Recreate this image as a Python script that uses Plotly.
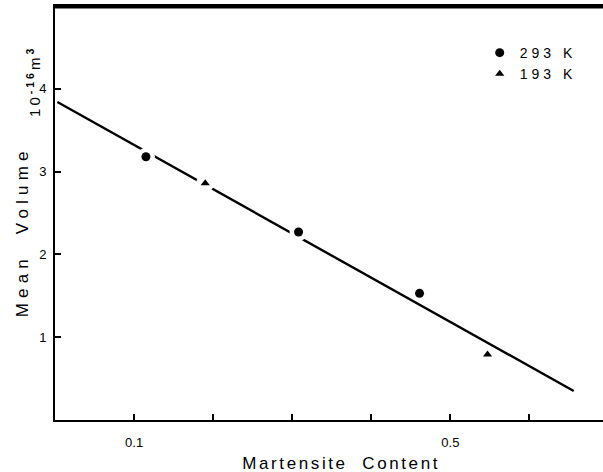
import plotly.graph_objects as go

# data
x_293 = [0.115, 0.308, 0.461]
y_293 = [3.18, 2.27, 1.53]
x_193 = [0.190, 0.547]
y_193 = [2.86, 0.79]
fit_x = [0.003, 0.656]
fit_y = [3.84, 0.35]
x_tickvals = [0.1, 0.5]
x_ticktext = ["0.1", "0.5"]
x_minor_ticks = [0.1, 0.2, 0.3, 0.4, 0.5, 0.6]
y_tickvals = [1, 2, 3, 4]
y_ticktext = ["1", "2", "3", "4"]

FONT = "Liberation Sans, Arial, sans-serif"

fig = go.Figure()
fig.add_trace(go.Scatter(x=fit_x, y=fit_y, mode="lines",
                         line=dict(color="black", width=2.4),
                         showlegend=False, hoverinfo="skip"))
# white halos that break the line around points lying on it
halo_x = [x_293[0], x_193[0], x_293[1]]
halo_y = [y_293[0], y_193[0], y_293[1]]
fig.add_trace(go.Scatter(x=halo_x, y=halo_y, mode="markers",
                         marker=dict(color="white", size=18, symbol="circle"),
                         showlegend=False, hoverinfo="skip"))
fig.add_trace(go.Scatter(x=x_293, y=y_293, mode="markers", name="293 K",
                         marker=dict(color="black", size=9, symbol="circle")))
fig.add_trace(go.Scatter(x=x_193, y=y_193, mode="markers", name="193 K",
                         marker=dict(color="black", size=8, symbol="triangle-up")))

fig.update_layout(
    width=603, height=472,
    margin=dict(l=55, r=0, t=6, b=52),
    plot_bgcolor="white", paper_bgcolor="white",
    font=dict(family=FONT, color="black", size=13),
    showlegend=True,
    legend=dict(x=0.775, y=0.925, xanchor="left", yanchor="top",
                bgcolor="rgba(0,0,0,0)", font=dict(size=14),
                itemsizing="trace", tracegroupgap=0),
    xaxis=dict(range=[0, 0.693], showline=True, linecolor="black", linewidth=2,
               mirror=True, ticks="", tickvals=x_tickvals, ticktext=x_ticktext,
               minor=dict(tickvals=x_minor_ticks, ticks="inside", ticklen=6,
                          tickwidth=1.5, tickcolor="black", showgrid=False),
               showgrid=False, zeroline=False, ticklabelstandoff=9,
               tickfont=dict(size=13)),
    yaxis=dict(range=[0, 5], showline=True, linecolor="black", linewidth=2,
               ticks="inside", ticklen=6, tickwidth=1.5, tickcolor="black",
               tickvals=y_tickvals, ticktext=y_ticktext, showgrid=False,
               zeroline=False, ticklabelstandoff=4, tickfont=dict(size=13)),
    shapes=[dict(type="line", xref="x", yref="y", x0=0, x1=0.693,
                 y0=4.985, y1=4.985, layer="above",
                 line=dict(color="black", width=2.5))],
    annotations=[
        dict(text="Martensite  Content", xref="paper", yref="paper",
             x=0.522, y=-0.104, showarrow=False, font=dict(size=17),
             xanchor="center", yanchor="middle"),
        dict(text="Mean  Volume", xref="paper", yref="paper",
             x=-0.060, y=0.454, showarrow=False, font=dict(size=17),
             textangle=-90, xanchor="center", yanchor="middle"),
        dict(text="10<sup><b>-16</b></sup>m<sup><b>3</b></sup>", xref="paper", yref="paper",
             x=-0.040, y=0.818, showarrow=False, font=dict(size=15),
             textangle=-90, xanchor="center", yanchor="middle"),
    ],
)

post = """
(function(){
  document.documentElement.style.margin = '0';
  document.body.style.margin = '0';
  document.body.style.padding = '0';
  document.body.style.overflow = 'hidden';
  window.scrollTo(0, 0);
  var t = document.querySelectorAll('.annotation-text');
  t.forEach(function(e){
    var s = e.textContent;
    if (s.indexOf('Martensite') >= 0) e.style.letterSpacing = '2.6px';
    else if (s.indexOf('Mean') >= 0) e.style.letterSpacing = '5.2px';
    else e.style.letterSpacing = '3px';
  });
  document.querySelectorAll('.legend [clip-path]').forEach(function(e){ e.removeAttribute('clip-path'); });
  document.querySelectorAll('.legendtext').forEach(function(e){ e.style.letterSpacing = '4px'; });
})();
"""
fig.write_html("out.html", post_script=post, config={"displayModeBar": False})
